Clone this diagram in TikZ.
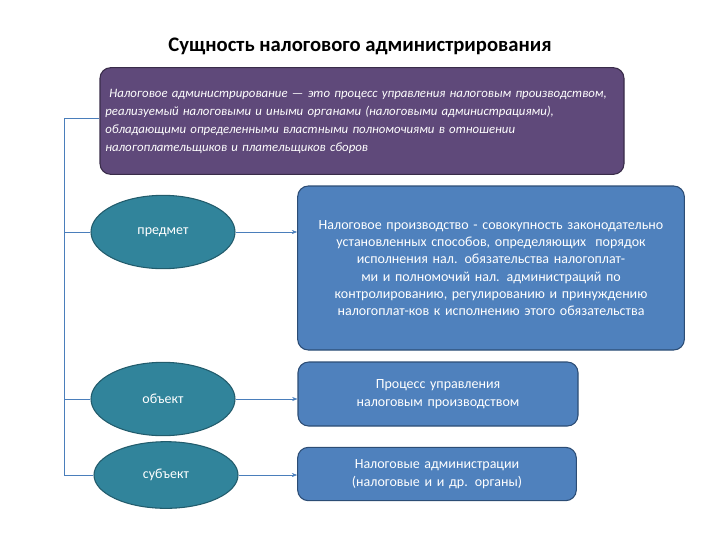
\documentclass[tikz,border=0pt]{standalone}
\usepackage{fontspec}
\setmainfont{Carlito}
\usetikzlibrary{shapes.geometric,arrows.meta}
\definecolor{purp}{HTML}{5F497A}
\definecolor{teal}{HTML}{31849B}
\definecolor{bl}{HTML}{4F81BD}
\definecolor{bd}{HTML}{2C4D75}
\definecolor{ln}{HTML}{4A7EBB}
\tikzset{
 ell/.style={ellipse,fill=teal,draw=teal!70!black,thick,text=white,font=\fontsize{10.5}{12}\selectfont,minimum width=108pt,minimum height=55pt,inner sep=0pt},
 bbox/.style={rounded corners=8pt,fill=bl,draw=bd,thick,text=white,font=\fontsize{10.5}{13}\selectfont,align=center,inner sep=3pt},
 conn/.style={draw=ln,thin,-{Stealth[length=4pt]}},
 brk/.style={draw=ln,thin}
}
\begin{document}
\begin{tikzpicture}[x=0.75pt,y=-0.75pt]
\useasboundingbox (0,0) rectangle (720,540);
\node[font=\bfseries\fontsize{15.5}{18}\selectfont] (title) at (360,46) {Сущность налогового администрирования};
\node[rounded corners=8pt,fill=purp,draw=purp!60!black,thick,text=white,minimum width=393pt,minimum height=80pt,text width=385pt,align=left,font=\itshape\fontsize{9.6}{13.5}\selectfont,inner sep=3pt] (def) at (362,121) {\hspace*{3pt}Налоговое администрирование --- это процесс управления налоговым производством, реализуемый налоговыми и иными органами (налоговыми администрациями), обладающими определенными властными полномочиями в отношении налогоплательщиков и плательщиков сборов};
\node[ell] (p) at (163,232) {предмет};
\node[ell] (o) at (163,399) {объект};
\node[ell,minimum height=50pt] (s) at (166,475) {субъект};
\node[bbox,minimum width=290pt,minimum height=123pt,text width=280pt] (b1) at (491,268) {Налоговое производство - совокупность законодательно установленных способов, определяющих \ порядок исполнения нал. обязательства налогоплат-ми и полномочий нал. администраций по контролированию, регулированию и принуждению налогоплат-ков к исполнению этого обязательства};
\node[bbox,minimum width=210pt,minimum height=48pt,text width=200pt] (b2) at (438,394) {Процесс управления налоговым производством};
\node[bbox,minimum width=209pt,minimum height=40pt,text width=200pt] (b3) at (437,474) {Налоговые администрации (налоговые и и др. органы)};
\coordinate (t0) at (64,118);
\coordinate (t3) at (64,475);
\draw[brk] (def.west|-t0) -- (t0) -- (t3) -- (s.west);
\draw[brk] (p.west) -- (p.west-|t0);
\draw[brk] (o.west) -- (o.west-|t0);
\draw[conn] (p.east) -- (p.east-|b1.west);
\draw[conn] (o.east) -- (o.east-|b2.west);
\draw[conn] (s.east) -- (s.east-|b3.west);
\end{tikzpicture}
\end{document}
